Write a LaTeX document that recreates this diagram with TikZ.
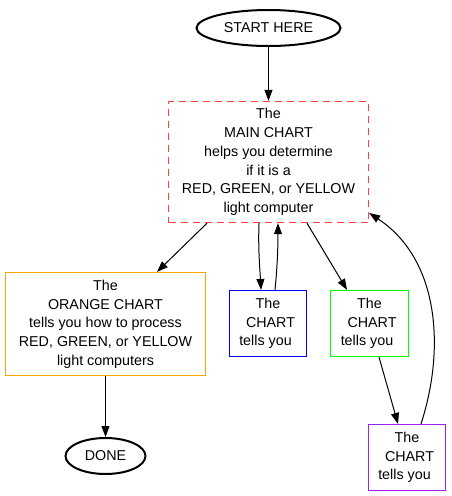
\documentclass[tikz,border=0pt]{standalone}
\usepackage{fontspec}
\setmainfont{Liberation Sans}
\usetikzlibrary{arrows.meta,shapes.geometric}
\definecolor{mainred}{HTML}{FF4040}
\definecolor{orangec}{HTML}{FFA500}
\definecolor{greenc}{HTML}{00FF00}
\definecolor{bluec}{HTML}{0000FF}
\definecolor{purplec}{HTML}{A020F0}
\begin{document}
\begin{tikzpicture}[x=1pt,y=-1pt,
  every node/.style={font=\fontsize{14.3}{18.7}\selectfont, align=center, inner sep=0pt},
  oval/.style={draw, line width=2pt, ellipse, minimum width=#1, minimum height=36pt},
  chartbox/.style={draw, line width=1.2pt, rectangle},
  edge/.style={-{Triangle[length=11pt,width=8pt]}, line width=1pt}]
\useasboundingbox (0,0) rectangle (451,496);
\node[oval=144pt] (start) at (268.5,28) {START HERE};
\node[chartbox, draw=mainred, line width=1.4pt, dash pattern=on 7pt off 5pt, minimum width=200pt, minimum height=121pt] (main) at (268.5,162)
  {The\\MAIN CHART\\helps you determine\\if it is a\\RED, GREEN, or YELLOW\\light computer};
\node[chartbox, draw=orangec, minimum width=200pt, minimum height=103pt] (orange) at (105.5,324)
  {The\\ORANGE CHART\\tells you how to process\\RED, GREEN, or YELLOW\\light computers};
\node[chartbox, draw=bluec, minimum width=77pt, minimum height=66pt] (blue) at (268,323.5)
  {The\\\hspace*{5pt}CHART\\tells you\hspace*{5pt}};
\node[chartbox, draw=greenc, minimum width=78pt, minimum height=66pt] (green) at (369.5,323.5)
  {The\\\hspace*{5pt}CHART\\tells you\hspace*{5pt}};
\node[chartbox, draw=purplec, minimum width=77pt, minimum height=66pt] (purple) at (407,457.5)
  {The\\\hspace*{5pt}CHART\\tells you\hspace*{5pt}};
\node[oval=80pt] (done) at (105.5,456) {DONE};

\draw[edge] (start) -- (main);
\draw[edge] (main.south -| 207,0) -- (orange.north -| 157,0);
\draw[edge] (orange) -- (done);
\draw[edge] (main.south -| 259,0) .. controls (258,250) and (260,270) .. (blue.north -| 261,0);
\draw[edge] (blue.north -| 275,0) .. controls (277,270) and (278,250) .. (main.south -| 278,0);
\draw[edge] (main.south -| 307,0) -- (green.north -| 347,0);
\draw[edge] (green.south -| 379,0) -- (purple.north -| 398,0);
\draw[edge] (purple.north -| 421,0) .. controls (445,350) and (440,260) .. (main.north east |- 0,213);
\end{tikzpicture}
\end{document}
